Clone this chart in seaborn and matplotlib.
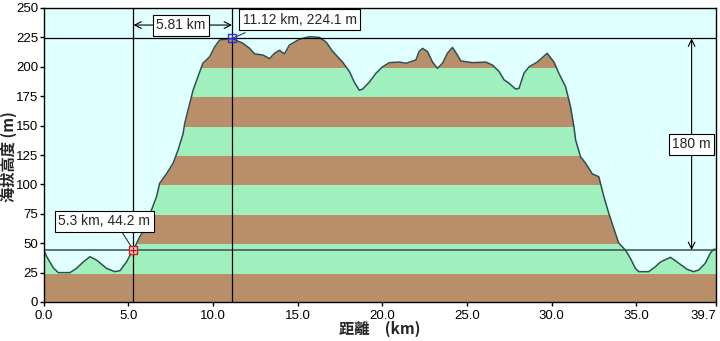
import numpy as np
import pandas as pd
import matplotlib
matplotlib.use("Agg")
import matplotlib.pyplot as plt
from matplotlib.patches import Rectangle
import seaborn as sns

# ---- data ----
dist_km = [0.0, 0.18, 0.57, 0.86, 1.55, 1.94, 2.33, 2.73, 3.12, 3.71, 4.2, 4.5, 4.89, 5.18, 5.3,
           5.67, 6.07, 6.36, 6.66, 6.85, 7.25, 7.64, 7.93, 8.23, 8.33, 8.52, 8.82, 9.11, 9.4,
           9.8, 10.1, 10.39, 11.12, 11.76, 12.16, 12.45, 12.94, 13.34, 13.63, 13.92, 14.22,
           14.51, 15.1, 15.69, 16.28, 16.68, 17.07, 17.65, 18.05, 18.34, 18.64, 18.83, 19.23,
           19.62, 20.01, 20.41, 21.0, 21.39, 21.98, 22.17, 22.37, 22.66, 22.96, 23.25, 23.55,
           23.84, 24.14, 24.43, 24.63, 25.32, 26.1, 26.5, 26.89, 27.18, 27.48, 27.87, 28.07,
           28.36, 28.66, 29.15, 29.73, 30.13, 30.42, 30.82, 31.11, 31.31, 31.41, 31.7, 32.0,
           32.39, 32.78, 33.08, 33.37, 33.76, 33.96, 34.35, 34.65, 34.94, 35.14, 35.73, 36.12,
           36.42, 37.01, 37.5, 37.99, 38.38, 38.68, 39.07, 39.36, 39.56, 39.7]
elev_m = [44, 38.5, 29, 25, 25, 28.6, 34, 38.5, 35.7, 28.6, 25.8, 26.6, 34, 42, 44.2,
          55.5, 64, 78, 89.5, 101, 109, 118, 129, 143, 152, 163, 180, 191.6, 203,
          208.6, 217, 222.8, 224.1, 220, 215.7, 211, 210, 207, 211.5, 214, 211,
          218.5, 223.4, 225.6, 225, 221, 213, 204, 196, 187, 180, 181, 187,
          194.5, 200, 203.5, 204, 203, 205.8, 213, 215.7, 213, 204, 198.7, 203,
          211.5, 216.5, 210, 205, 203.5, 204, 201.5, 196, 189, 186, 181, 181.7,
          194.5, 200, 204, 211.5, 204, 194.5, 183, 166, 149, 137.8, 123.5, 118,
          109, 106.5, 89.5, 75.4, 58.4, 50, 44.2, 37, 28.6, 25.8, 25.8, 30,
          34, 38, 33, 27.8, 25.8, 27.2, 33, 41.4, 44.8, 44.8]

y_ticks = [0, 25, 50, 75, 100, 125, 150, 175, 200, 225, 250]
x_ticks = [0.0, 5.0, 10.0, 15.0, 20.0, 25.0, 30.0, 35.0, 39.7]
x_tick_labels = ["0.0", "5.0", "10.0", "15.0", "20.0", "25.0", "30.0", "35.0", "39.7"]

pt_low = (5.3, 44.2)
pt_high = (11.12, 224.1)
low_label = "5.3 km, 44.2 m"
high_label = "11.12 km, 224.1 m"
dist_label = "5.81 km"
rise_label = "180 m"
x_title = "距離　(km)"
y_title = "海拔高度 (m)"

df = pd.DataFrame({"dist": dist_km, "elev": elev_m})

# ---- style ----
sns.set_theme(style="white")
plt.rcParams["font.family"] = ["Liberation Sans", "Noto Sans CJK TC"]

BROWN = "#B98F69"
GREEN = "#A0F0BE"
BG = "#E0FFFF"
LINE = "#2F4F4F"

fig = plt.figure(figsize=(7.2, 3.41), dpi=100, facecolor="white")
ax = fig.add_axes([43.7 / 720, 1 - 302 / 341, (716 - 43.7) / 720, (302 - 8) / 341])
ax.set_facecolor(BG)

x = df["dist"].to_numpy()
y = df["elev"].to_numpy()
# striped fill of 25 m bands: full profile fill clipped to each band
for i in range(len(y_ticks) - 1):
    lo, hi = y_ticks[i], y_ticks[i + 1]
    col = BROWN if i % 2 == 0 else GREEN
    poly = ax.fill_between(x, 0, y, color=col, lw=0, zorder=1)
    clip = Rectangle((x.min(), lo), x.max() - x.min(), hi - lo, transform=ax.transData)
    poly.set_clip_path(clip)

sns.lineplot(data=df, x="dist", y="elev", ax=ax, color=LINE, lw=1.1, zorder=3)

ax.set_xlim(0, 39.7)
ax.set_ylim(0, 250)

# reference lines
ax.axhline(pt_high[1], color="black", lw=0.9, zorder=4)
ax.axhline(pt_low[1], color="#3A5050", lw=1.1, zorder=4)
ax.axvline(pt_low[0], color="black", lw=0.9, zorder=4)
ax.axvline(pt_high[0], color="black", lw=0.9, zorder=4)

box = dict(boxstyle="square,pad=0.25", fc="white", ec="black", lw=0.8)
fs = 10

# horizontal distance arrow
ax.annotate("", xy=(pt_low[0], 235.5), xytext=(pt_high[0], 235.5),
            arrowprops=dict(arrowstyle="<->", lw=0.8, color="black", shrinkA=0, shrinkB=0), zorder=5)
ax.text((pt_low[0] + pt_high[0]) / 2 - 0.1, 235.5, dist_label, ha="center", va="center",
        fontsize=fs, bbox=box, zorder=6)

# vertical rise arrow
ax.annotate("", xy=(38.26, pt_low[1]), xytext=(38.26, pt_high[1]),
            arrowprops=dict(arrowstyle="<->", lw=0.8, color="black", shrinkA=0, shrinkB=0), zorder=5)
ax.text(38.26, 134, rise_label, ha="center", va="center", fontsize=fs, bbox=box, zorder=6)

# point callouts
ax.plot([pt_high[0], 11.9], [pt_high[1], 229], color="#333366", lw=0.8, zorder=5)
ax.text(11.75, 240.2, high_label, ha="left", va="center", fontsize=fs, bbox=box, zorder=6)
ax.plot([pt_low[0], 4.6], [pt_low[1], 60], color="#333333", lw=0.8, zorder=5)
ax.text(3.58, 68.5, low_label, ha="center", va="center", fontsize=fs, bbox=box, zorder=6)

ax.plot([pt_high[0]], [pt_high[1]], marker="s", ms=6, mfc="none", mec="#3030D0", mew=1, zorder=7)
ax.plot([pt_high[0]], [pt_high[1]], marker="+", ms=5, color="#3030D0", mew=0.8, zorder=7)
ax.plot([pt_low[0]], [pt_low[1]], marker="s", ms=6, mfc="#FFB8B8", mec="#D02020", mew=1, zorder=7)
ax.plot([pt_low[0]], [pt_low[1]], marker="+", ms=4, color="#802020", mew=0.8, zorder=7)

# axes
ax.set_xticks(x_ticks)
ax.set_xticklabels(x_tick_labels)
ax.set_yticks(y_ticks)
ax.tick_params(axis="both", direction="out", length=3, width=1, color="black",
               labelsize=9.5, labelcolor="black", pad=1, left=True, bottom=True)
ax.tick_params(axis="x", pad=3)
ax.get_xticklabels()[-1].set_horizontalalignment("right")
for s in ax.spines.values():
    s.set_color("black")
    s.set_linewidth(1)
    s.set_zorder(8)
ax.set_xlabel("")
ax.set_ylabel("")
fig.text(380 / 720, 1 - 329 / 341, x_title, fontsize=11, fontweight="bold",
         ha="center", va="center", family=["Noto Sans CJK TC", "Liberation Sans"])
fig.text(9 / 720, 1 - 157 / 341, y_title, fontsize=11, fontweight="bold", rotation=90,
         ha="center", va="center", family=["Noto Sans CJK TC", "Liberation Sans"])

fig.savefig("out.png", dpi=100, facecolor="white")
